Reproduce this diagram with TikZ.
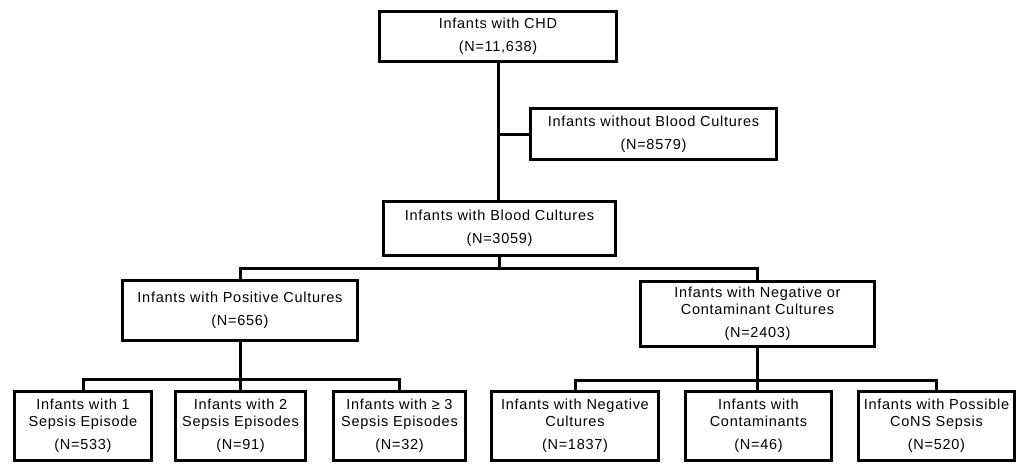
\documentclass[tikz,border=0pt]{standalone}
\usepackage{fontspec}
\setmainfont{Liberation Sans}[LetterSpace=5]

\begin{document}
\begin{tikzpicture}[
		x=1pt, y=-1pt,
		flowbox/.style={
		% The shape:
		rectangle,
		inner sep=0pt,
		% The border:
		draw=black,
		line width=3pt,
		% Text
		align=center,
		font=\fontsize{14.5}{17}\selectfont
    		},
		flowline/.style={
		draw=black,
		line width=3pt
		}
	]
	\useasboundingbox (0,0) rectangle (1018,464);

	\node (CHD)[flowbox, minimum width=237, minimum height=50] at (498,36.5) {Infants with CHD\\[6pt](N=11,638)};
	\node (NoBC)[flowbox, minimum width=246, minimum height=51] at (653.5,134) {Infants without Blood Cultures\\[6pt](N=8579)};
	\node (BC)[flowbox, minimum width=232, minimum height=54] at (499.5,228.5) {Infants with Blood Cultures\\[6pt](N=3059)};

	\node (Pos)[flowbox, minimum width=235, minimum height=60] at (240,310.5) {Infants with Positive Cultures\\[6pt](N=656)};
	\node (Neg)[flowbox, minimum width=234, minimum height=65] at (757.5,314) {Infants with Negative or\\Contaminant Cultures\\[6pt](N=2403)};

	\node (Ep1)[flowbox, minimum width=137, minimum height=69] at (83,426) {Infants with 1\\Sepsis Episode\\[6pt](N=533)};
	\node (Ep2)[flowbox, minimum width=130, minimum height=69] at (240.5,426) {Infants with 2\\Sepsis Episodes\\[6pt](N=91)};
	\node (Ep3)[flowbox, minimum width=132, minimum height=69] at (399.5,426) {Infants with ≥ 3\\Sepsis Episodes\\[6pt](N=32)};
	\node (NegC)[flowbox, minimum width=167, minimum height=69] at (575,426) {Infants with Negative\\Cultures\\[6pt](N=1837)};
	\node (Cont)[flowbox, minimum width=146, minimum height=69] at (758.5,426) {Infants with\\Contaminants\\[6pt](N=46)};
	\node (CoNS)[flowbox, minimum width=156, minimum height=69] at (936.5,426) {Infants with Possible\\CoNS Sepsis\\[6pt](N=520)};

	% trunk and side branch
	\draw [flowline] (CHD.south) -- (CHD.south |- BC.north);
	\draw [flowline] (CHD.south |- NoBC.west) -- (NoBC.west);

	% second level
	\coordinate (Split1) at (499.5,268);
	\draw [flowline] (BC.south) -- (Split1);
	\draw [flowline] (Pos.north) |- (Split1) -| (Neg.north);

	% third level
	\coordinate (Split2) at (240,379);
	\coordinate (Split3) at (757.5,380);
	\draw [flowline] (Pos.south) -- (Split2);
	\draw [flowline] (Ep1.north) |- (Split2) -| (Ep3.north);
	\draw [flowline] (Split2) -- (Split2 |- Ep2.north);
	\draw [flowline] (Neg.south) -- (Split3);
	\draw [flowline] (NegC.north) |- (Split3) -| (CoNS.north);
	\draw [flowline] (Split3) -- (Split3 |- Cont.north);
\end{tikzpicture}
\end{document}
